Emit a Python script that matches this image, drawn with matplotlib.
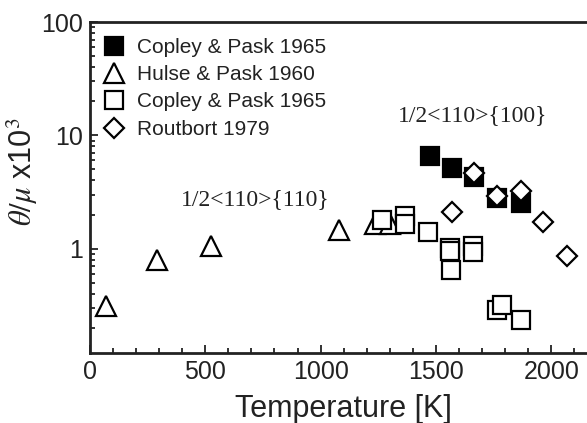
import matplotlib
matplotlib.use("Agg")
import matplotlib.pyplot as plt
from matplotlib.ticker import FixedLocator, LogLocator, NullFormatter, FuncFormatter, MultipleLocator

plt.rcParams['font.family'] = ['Liberation Sans', 'DejaVu Sans']
plt.rcParams['mathtext.fontset'] = 'stix'

# Data
cp_filled_T = [1474, 1568, 1667, 1764, 1868]
cp_filled_v = [6.6, 5.1, 4.3, 2.8, 2.55]

hp_T = [68, 292, 525, 1081, 1236, 1300]
hp_v = [0.315, 0.80, 1.05, 1.45, 1.66, 1.66]

cp_open_T = [1265, 1366, 1366, 1464, 1561, 1561, 1564, 1662, 1662, 1764, 1785, 1868]
cp_open_v = [1.8, 1.93, 1.66, 1.40, 1.01, 0.95, 0.65, 1.05, 0.94, 0.29, 0.32, 0.237]

rb_T = [1568, 1667, 1764, 1868, 1966, 2067]
rb_v = [2.09, 4.64, 2.93, 3.2, 1.72, 0.87]

labels = ["Copley & Pask 1965", "Hulse & Pask 1960", "Copley & Pask 1965", "Routbort 1979"]

fig = plt.figure(figsize=(5.87, 4.23), dpi=100)
ax = fig.add_axes([90/587, 70/423, (2200*0.2306)/587, 331/423])

ms = 12.5
mew = 1.6
h_hp, = ax.plot(hp_T, hp_v, linestyle='none', marker='^', ms=14, mfc='white', mec='black', mew=mew, zorder=2)
h_cpo, = ax.plot(cp_open_T, cp_open_v, linestyle='none', marker='s', ms=ms, mfc='white', mec='black', mew=mew, zorder=3)
h_cpf, = ax.plot(cp_filled_T, cp_filled_v, linestyle='none', marker='s', ms=ms, mfc='black', mec='black', mew=mew, zorder=4)
h_rb, = ax.plot(rb_T, rb_v, linestyle='none', marker='D', ms=10.5, mfc='white', mec='black', mew=mew, zorder=5)

ax.set_yscale('log')
ax.set_xlim(0, 2200)
ax.set_ylim(0.12, 100)

ax.xaxis.set_major_locator(FixedLocator([0, 500, 1000, 1500, 2000]))
ax.xaxis.set_minor_locator(MultipleLocator(100))
ax.yaxis.set_major_locator(FixedLocator([1, 10, 100]))
ax.yaxis.set_minor_locator(LogLocator(base=10, subs=[2, 3, 4, 5, 6, 7, 8, 9]))
ax.yaxis.set_minor_formatter(NullFormatter())
ax.yaxis.set_major_formatter(FuncFormatter(lambda v, p: f"{v:g}"))

ax.tick_params(which='both', direction='in', top=False, right=False, labelsize=18, width=1.3, colors='#222222')
ax.tick_params(which='major', length=6, pad=5)
ax.tick_params(which='minor', length=3.5)
for s in ['left', 'bottom', 'top']:
    ax.spines[s].set_linewidth(2)
    ax.spines[s].set_color('#222222')
ax.spines['right'].set_visible(False)

ax.set_xlabel('Temperature [K]', fontsize=22, color='#222222', labelpad=7)
ax.set_ylabel(r'$\theta/\mu$ x10$^3$', fontsize=22, color='#222222')
ax.yaxis.set_label_coords(-0.099, 0.547)

leg = ax.legend([h_cpf, h_hp, h_cpo, h_rb], labels, loc='upper left', frameon=False,
                fontsize=15, bbox_to_anchor=(-0.008, 0.99), handletextpad=0.35,
                labelspacing=0.4, borderaxespad=0.2, handlelength=1.5)
for t in leg.get_texts():
    t.set_color('#222222')

ax.text(715, 2.7, '1/2<110>{110}', family='Liberation Serif', fontsize=17, ha='center', va='center', color='#222222')
ax.text(1661, 14.9, '1/2<110>{100}', family='Liberation Serif', fontsize=17, ha='center', va='center', color='#222222')

fig.savefig('out.png', dpi=100)
